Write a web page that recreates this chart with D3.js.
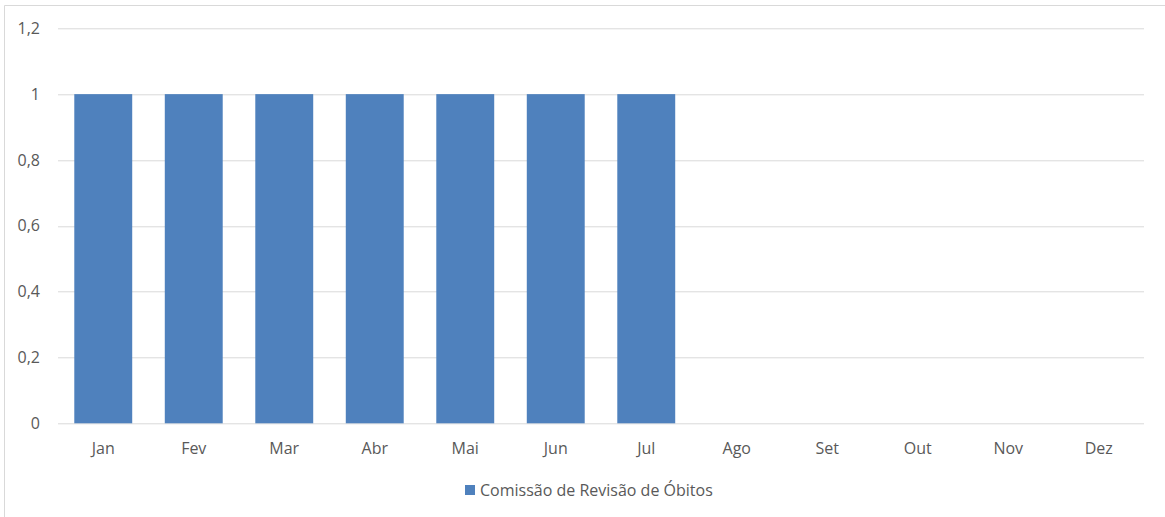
<!DOCTYPE html>
<html>
<head>
<meta charset="utf-8">
<script src="https://cdn.jsdelivr.net/npm/d3@7"></script>
<style>
  body { margin: 0; background: #fff; overflow: hidden; }
  svg { display: block; }
  text { font-family: "Open Sans", "Liberation Sans", sans-serif; fill: #595959; }
</style>
</head>
<body>
<div id="chart"></div>
<script>
const months = ["Jan", "Fev", "Mar", "Abr", "Mai", "Jun", "Jul", "Ago", "Set", "Out", "Nov", "Dez"];
const values = [1, 1, 1, 1, 1, 1, 1, 0, 0, 0, 0, 0];
const yTicks = [0, 0.2, 0.4, 0.6, 0.8, 1, 1.2];
const seriesName = "Comissão de Revisão de Óbitos";

const width = 1165;
const height = 517;
const margin = {top: 28.3, right: 21, bottom: 93.7, left: 58};
const innerWidth = width - margin.left - margin.right;
const innerHeight = height - margin.top - margin.bottom;
const barColor = "#4f81bd";

const svg = d3.select("#chart")
  .append("svg")
    .attr("width", width)
    .attr("height", height);

// Chart border: only top and left edges fall inside the window
svg.append("path")
  .attr("d", `M4.5,${height} V5.5 H${width}`)
  .attr("fill", "none")
  .attr("stroke", "#d9d9d9");

const innerChart = svg.append("g")
  .attr("transform", `translate(${margin.left}, ${margin.top})`);

// Scales
const xScale = d3.scaleBand()
  .domain(months)
  .range([0, innerWidth])
  .paddingInner(0.36)
  .paddingOuter(0.18);

const yScale = d3.scaleLinear()
  .domain([0, 1.2])
  .range([innerHeight, 0]);

// Gridlines
innerChart.append("g")
  .selectAll("line")
  .data(yTicks)
  .join("line")
    .attr("x1", 0)
    .attr("x2", innerWidth)
    .attr("y1", d => Math.round(yScale(d)) + 0.5)
    .attr("y2", d => Math.round(yScale(d)) + 0.5)
    .attr("stroke", "#d9d9d9")
    .attr("stroke-width", 1);

// Y axis labels
const fmt = d => d3.format("~g")(d).replace(".", ",");
innerChart.append("g")
  .selectAll("text")
  .data(yTicks)
  .join("text")
    .attr("x", -18)
    .attr("y", d => yScale(d))
    .attr("dy", "0.35em")
    .attr("text-anchor", "end")
    .attr("font-size", 16)
    .text(fmt);

// Bars
innerChart.append("g")
  .selectAll("rect")
  .data(months.map((m, i) => ({month: m, value: values[i]})))
  .join("rect")
    .attr("x", d => xScale(d.month))
    .attr("y", d => yScale(d.value))
    .attr("width", xScale.bandwidth())
    .attr("height", d => innerHeight - yScale(d.value))
    .attr("fill", barColor);

// X axis labels
innerChart.append("g")
  .selectAll("text")
  .data(months)
  .join("text")
    .attr("x", d => xScale(d) + xScale.bandwidth() / 2)
    .attr("y", innerHeight + 25)
    .attr("dy", "0.35em")
    .attr("text-anchor", "middle")
    .attr("font-size", 16)
    .text(d => d);

// Legend
const legend = svg.append("g")
  .attr("transform", `translate(465, 490)`);
legend.append("rect")
  .attr("x", 0)
  .attr("y", -5)
  .attr("width", 10)
  .attr("height", 10)
  .attr("fill", barColor);
legend.append("text")
  .attr("x", 15)
  .attr("y", 0)
  .attr("dy", "0.35em")
  .attr("font-size", 16)
  .text(seriesName);
</script>
</body>
</html>
